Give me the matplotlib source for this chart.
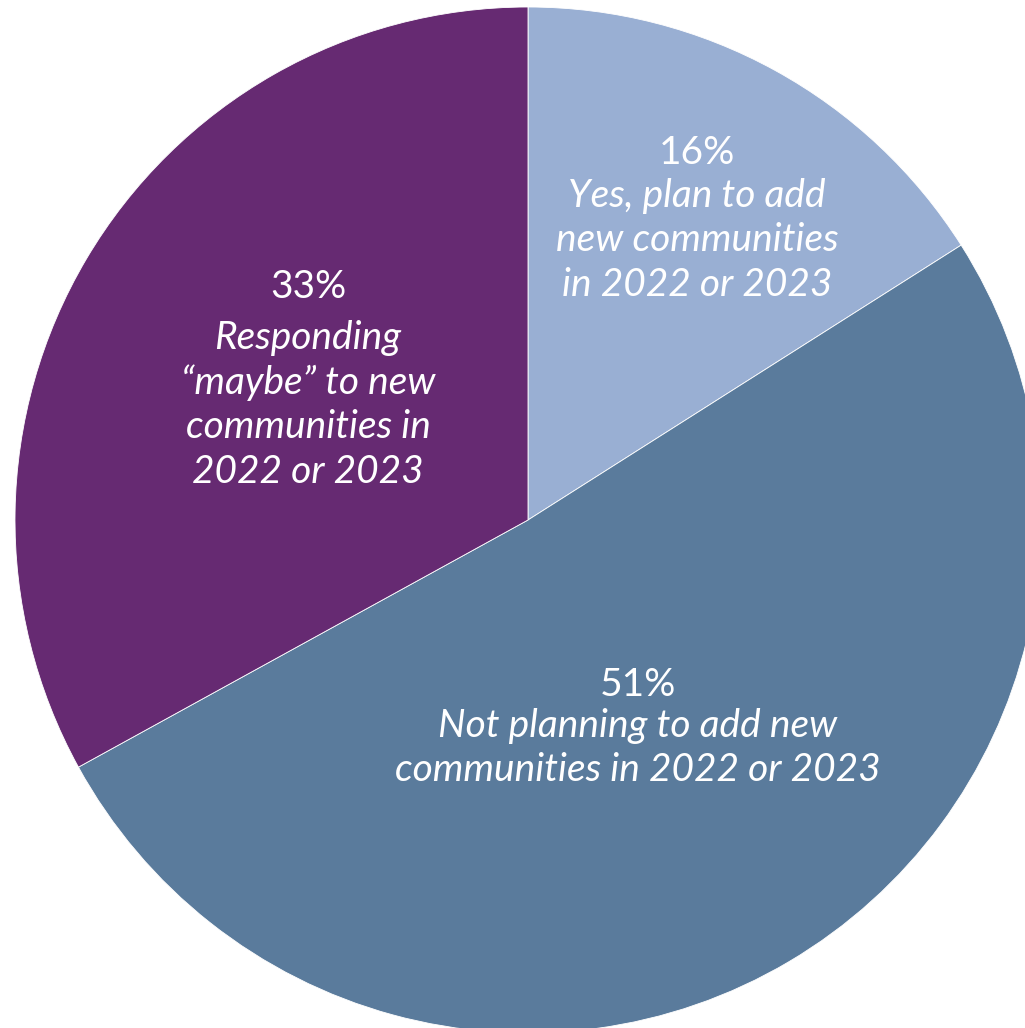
import matplotlib
matplotlib.use("Agg")
import matplotlib.pyplot as plt

values = [16, 51, 33]
pct_labels = ["16%", "51%", "33%"]
desc_labels = [
    ["Yes, plan to add", "new communities", "in 2022 or 2023"],
    ["Not planning to add new", "communities in 2022 or 2023"],
    ["Responding", "\u201cmaybe\u201d to new", "communities in", "2022 or 2023"],
]
colors = ["#99AFD3", "#5A7B9C", "#662A72"]

W, H = 1025, 1028
fig = plt.figure(figsize=(W / 100, H / 100), dpi=100)
ax = fig.add_axes([0, 0, 1, 1])

cx, cy, r = 528, H - 520, 513
ax.pie(values, colors=colors, startangle=90, counterclock=False,
       center=(cx, cy), radius=r, frame=True,
       wedgeprops=dict(edgecolor="white", linewidth=0.6))
ax.set_xlim(0, W)
ax.set_ylim(0, H)
ax.axis("off")

# label positions (pixels from top-left): x, percent line y, first desc line y
label_pos = [(697, 149, 192), (638, 682, 722), (308, 284, 335)]
step = 44.5
fam = ["Lato", "DejaVu Sans"]
fs = 28
for (x, yp, yd), p, lines in zip(label_pos, pct_labels, desc_labels):
    ax.text(x, H - yp, p, ha="center", va="center_baseline", color="white",
            fontsize=fs, family=fam)
    for i, ln in enumerate(lines):
        ax.text(x, H - (yd + i * step), ln, ha="center", va="center_baseline",
                color="white", fontsize=fs, family=fam, style="italic")

fig.savefig("out.png", dpi=100)
